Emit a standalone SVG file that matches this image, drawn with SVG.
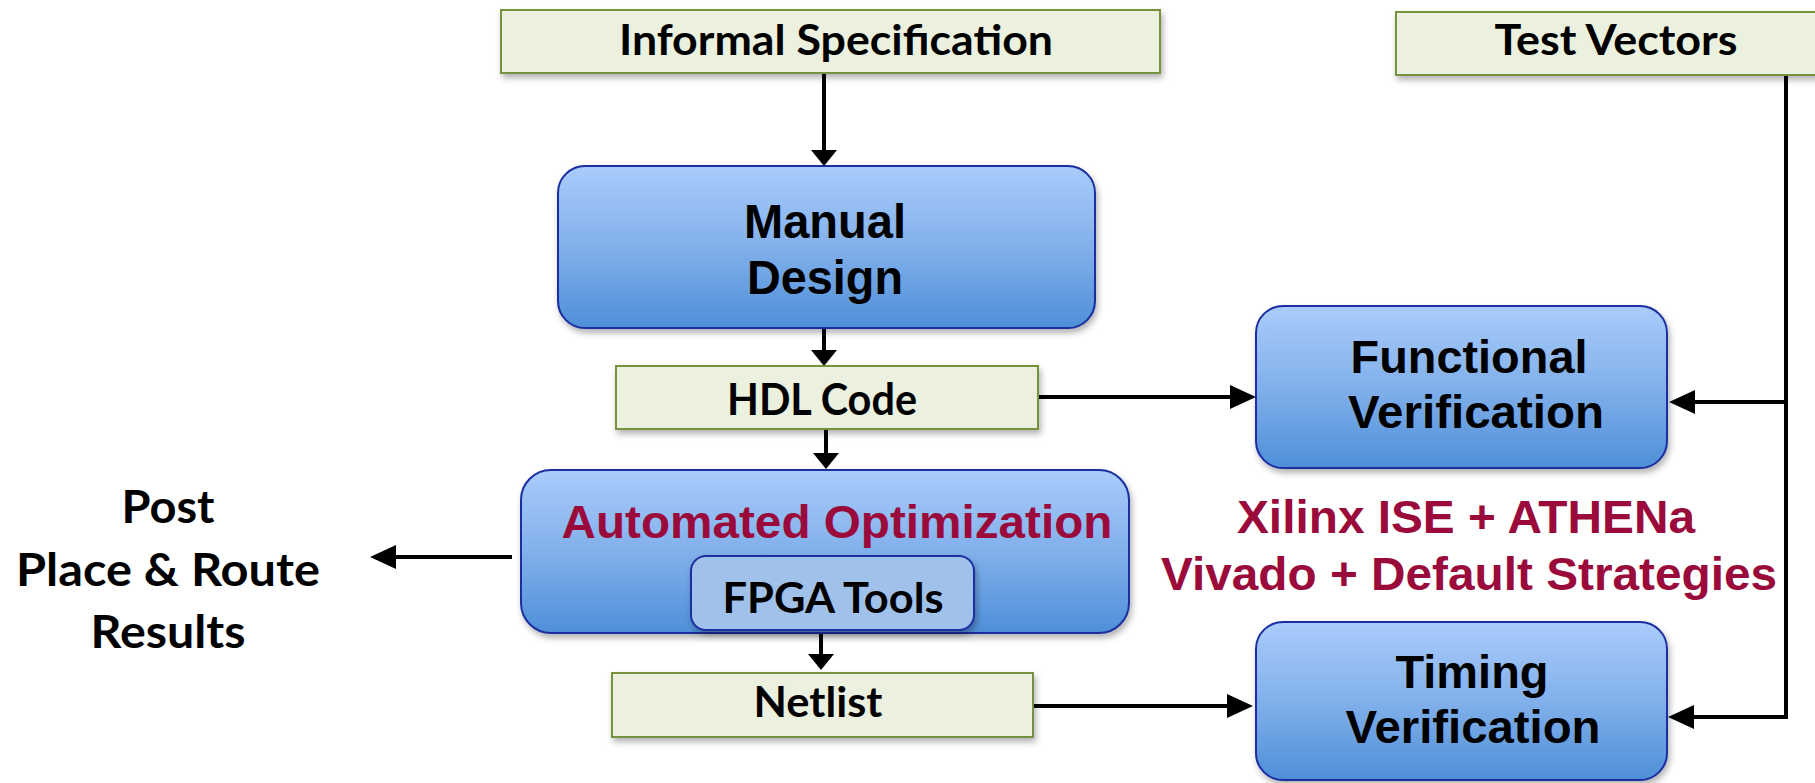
<svg xmlns="http://www.w3.org/2000/svg" width="1815" height="783" viewBox="0 0 1815 783">
<style>
.doc{fill:#EBF1DE;stroke:#76923C;stroke-width:2;filter:url(#sh)}
.proc{fill:url(#blue);stroke:#1A2FA0;stroke-width:2;filter:url(#sh)}
.inner{fill:#A0C1EA;stroke:#1A2FA0;stroke-width:2;filter:url(#sh)}
.cal{font-family:Lato,"Open Sans","DejaVu Sans",sans-serif;font-weight:700;fill:#000;text-anchor:middle}
.ar{font-family:"Liberation Sans",Arial,sans-serif;font-weight:700;fill:#000;text-anchor:middle}
.red{fill:#9A0A3B}
.con{fill:none;stroke:#000;stroke-width:4}
</style>
<defs>
<linearGradient id="blue" x1="0" y1="0" x2="0" y2="1">
<stop offset="0" stop-color="#A9CCFB"/>
<stop offset="0.5" stop-color="#82B0EB"/>
<stop offset="1" stop-color="#4E8FD8"/>
</linearGradient>
<filter id="sh" x="-10%" y="-10%" width="120%" height="130%">
<feDropShadow dx="2" dy="4" stdDeviation="3" flood-color="#000" flood-opacity="0.3"/>
</filter>
<marker id="av" markerUnits="userSpaceOnUse" markerWidth="16" markerHeight="26" refX="12" refY="13" orient="auto" viewBox="0 0 16 26">
<path d="M0,0 L16,13 L0,26 z" fill="#000"/>
</marker>
<marker id="ah" markerUnits="userSpaceOnUse" markerWidth="26" markerHeight="26" refX="21" refY="13" orient="auto" viewBox="0 0 26 26">
<path d="M0,1 L26,13 L0,25 z" fill="#000"/>
</marker>
</defs>
<rect width="1815" height="783" fill="#fff"/>

<g id="connectors">
<line class="con" x1="824" y1="73" x2="824" y2="162" marker-end="url(#av)"/>
<line class="con" x1="824" y1="328" x2="824" y2="362" marker-end="url(#av)"/>
<line class="con" x1="826" y1="429" x2="826" y2="465" marker-end="url(#av)"/>
<line class="con" x1="821" y1="630" x2="821" y2="666" marker-end="url(#av)"/>
<line class="con" x1="512" y1="557" x2="375" y2="557" marker-end="url(#ah)"/>
<line class="con" x1="1036" y1="397" x2="1251" y2="397" marker-end="url(#ah)"/>
<line class="con" x1="1033" y1="706" x2="1248" y2="706" marker-end="url(#ah)"/>
<path class="con" d="M1786,73 L1786,717 L1673,717" marker-end="url(#ah)"/>
<line class="con" x1="1786" y1="402" x2="1674" y2="402" marker-end="url(#ah)"/>
</g>

<g id="informal-spec">
<rect class="doc" x="501" y="10" width="659" height="63"/>
<text class="cal" x="836" y="55" font-size="42" textLength="434" lengthAdjust="spacingAndGlyphs">Informal Specification</text>
</g>

<g id="test-vectors">
<rect class="doc" x="1396" y="12" width="440" height="63"/>
<text class="cal" x="1616" y="55" font-size="42" textLength="243" lengthAdjust="spacingAndGlyphs">Test Vectors</text>
</g>

<g id="manual-design">
<rect class="proc" x="558" y="166" width="537" height="162" rx="27" ry="27"/>
<text class="ar" x="825" y="238" font-size="48" textLength="162" lengthAdjust="spacingAndGlyphs">Manual</text>
<text class="ar" x="825" y="294" font-size="48" textLength="156" lengthAdjust="spacingAndGlyphs">Design</text>
</g>

<g id="hdl-code">
<rect class="doc" x="616" y="366" width="422" height="63"/>
<text class="cal" x="822" y="415" font-size="43" textLength="190" lengthAdjust="spacingAndGlyphs">HDL Code</text>
</g>

<g id="automated-optimization">
<rect class="proc" x="521" y="470" width="608" height="163" rx="30" ry="30"/>
<text class="ar red" x="837" y="538" font-size="47" textLength="551" lengthAdjust="spacingAndGlyphs">Automated Optimization</text>
</g>

<g id="fpga-tools">
<rect class="inner" x="691" y="556" width="283" height="74" rx="15" ry="15"/>
<text class="cal" x="833" y="613" font-size="42" textLength="221" lengthAdjust="spacingAndGlyphs">FPGA Tools</text>
</g>

<g id="netlist">
<rect class="doc" x="612" y="673" width="421" height="64"/>
<text class="cal" x="818" y="717" font-size="42" textLength="129" lengthAdjust="spacingAndGlyphs">Netlist</text>
</g>

<g id="post-results">
<text class="cal" x="168" y="523" font-size="46" textLength="93" lengthAdjust="spacingAndGlyphs">Post</text>
<text class="cal" x="168" y="586" font-size="46" textLength="304" lengthAdjust="spacingAndGlyphs">Place &amp; Route</text>
<text class="cal" x="168" y="648" font-size="46" textLength="155" lengthAdjust="spacingAndGlyphs">Results</text>
</g>

<g id="functional-verification">
<rect class="proc" x="1256" y="306" width="411" height="162" rx="27" ry="27"/>
<text class="ar" x="1469" y="373" font-size="47" textLength="237" lengthAdjust="spacingAndGlyphs">Functional</text>
<text class="ar" x="1476" y="428" font-size="47" textLength="256" lengthAdjust="spacingAndGlyphs">Verification</text>
</g>

<g id="tools-label">
<text class="ar red" x="1466" y="533" font-size="46" textLength="458" lengthAdjust="spacingAndGlyphs">Xilinx ISE + ATHENa</text>
<text class="ar red" x="1469" y="590" font-size="46" textLength="616" lengthAdjust="spacingAndGlyphs">Vivado + Default Strategies</text>
</g>

<g id="timing-verification">
<rect class="proc" x="1256" y="622" width="411" height="158" rx="27" ry="27"/>
<text class="ar" x="1472" y="688" font-size="47" textLength="153" lengthAdjust="spacingAndGlyphs">Timing</text>
<text class="ar" x="1473" y="743" font-size="47" textLength="255" lengthAdjust="spacingAndGlyphs">Verification</text>
</g>
</svg>
